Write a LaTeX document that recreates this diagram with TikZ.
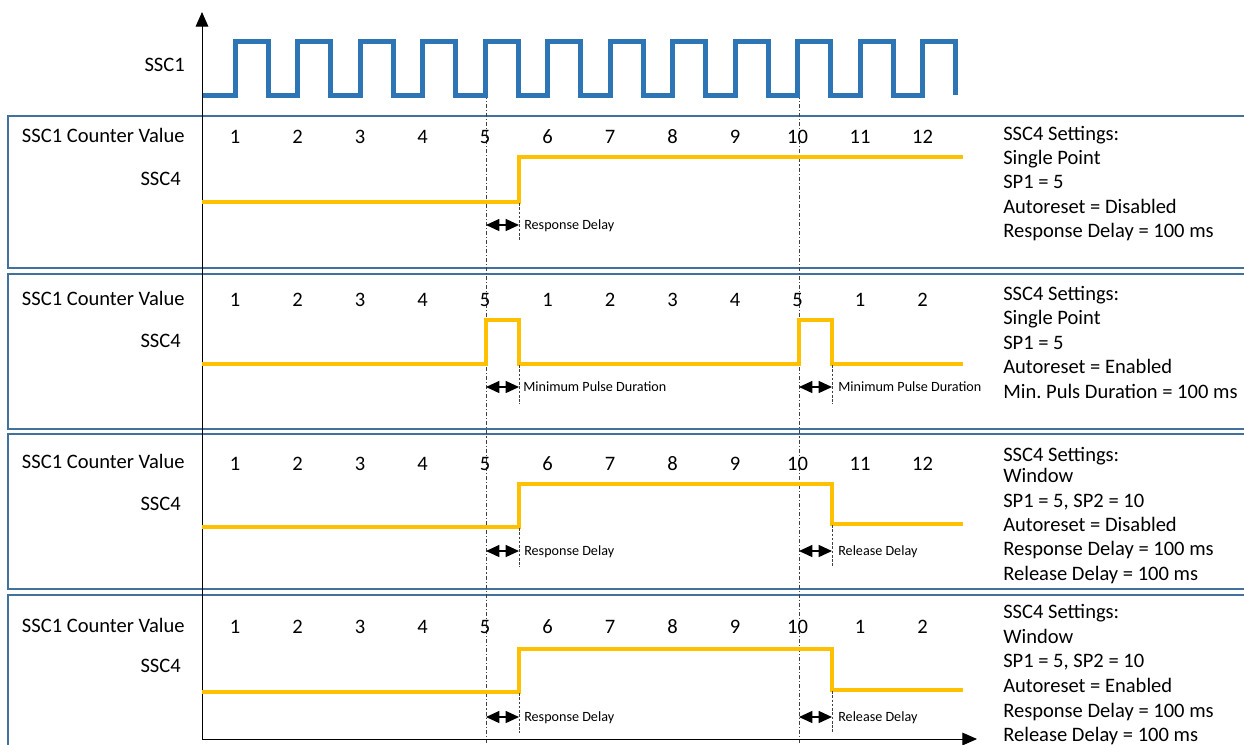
\documentclass[tikz,border=0pt]{standalone}
\usepackage{fontspec}
\setmainfont{Carlito}
\usetikzlibrary{arrows.meta}
\definecolor{clk}{HTML}{2E75B6}
\definecolor{sig}{HTML}{FFC000}
\definecolor{frame}{HTML}{41719C}
\definecolor{guide}{HTML}{404040}
\frenchspacing
\begin{document}
\begin{tikzpicture}[x=0.75pt,y=-0.75pt,
  lbl/.style={font=\fontsize{15.4}{18}\selectfont, inner sep=0pt},
  num/.style={lbl, anchor=base},
  rtxt/.style={lbl, anchor=base west},
  ltxt/.style={lbl, anchor=base east},
  small/.style={font=\fontsize{10.6}{12}\selectfont, inner sep=0pt, anchor=base west},
  frm/.style={draw=frame, line width=1.5pt},
  clkline/.style={draw=clk, line width=3.75pt, line join=miter},
  sigline/.style={draw=sig, line width=3pt, line join=miter},
  guideline/.style={draw=guide, line width=0.6pt, dash pattern=on 3pt off 1.5pt on 0.8pt off 1.5pt},
  tickline/.style={draw=guide, line width=0.6pt, dash pattern=on 2pt off 1.2pt},
  dly/.style={{Triangle[length=10pt,width=9pt]}-{Triangle[length=10pt,width=9pt]}, line width=1pt},
  axis/.style={draw=black, line width=0.75pt}
]
\useasboundingbox (0,0) rectangle (1244,744);
\clip (0,0) rectangle (1244,744);
\fill[white] (0,0) rectangle (1244,744);

% panel frames
\draw[frm] (8,116) rectangle (1270,268);
\draw[frm] (8,274) rectangle (1270,429);
\draw[frm] (8,434) rectangle (1270,589);
\draw[frm] (8,595) rectangle (1270,780);

% guide lines
\coordinate (g5top) at (486,95);
\coordinate (g5bot) at (486,744);
\coordinate (g10top) at (799,95);
\coordinate (g10bot) at (799,744);
\draw[guideline] (g5top) -- (g5bot);
\draw[guideline] (g10top) -- (g10bot);

% clock
\draw[clkline] (202,95) -- (235,95)
  \foreach \i in {0,...,10} { -- ({235+62.5*\i},41) -- ({268+62.5*\i},41) -- ({268+62.5*\i},95) -- ({297.5+62.5*\i},95) }
  -- (922.5,41) -- (955.5,41) -- (955.5,95);

% axes
\coordinate (origin) at (202,739);
\coordinate (ytip) at (202,12);
\coordinate (xtip) at (977,739);
\draw[axis, -{Triangle[length=11pt,width=9.5pt]}] (origin) -- (ytip);
\draw[axis, -{Triangle[length=11pt,width=9.5pt]}] (origin) -- (xtip);

\node[ltxt] (ssc1) at (185,71.7) {SSC1};

% ---------- panel 1 ----------
\node[ltxt] (c1) at (185,142) {SSC1 Counter Value};
\node[ltxt] (s1) at (181,185.5) {SSC4};
\foreach \n [count=\k from 0] in {1,2,3,4,5,6,7,8,9,10,11,12}
  \node[num] (pa\k) at ({235+62.5*\k},143.5) {\n};
\draw[sigline] (202,202) -- (519,202) -- (519,157) -- (963,157);
\draw[tickline] (519,203) -- (519,241);
\coordinate (a1l) at (486,225); \coordinate (a1r) at (519,225);
\draw[dly] (a1l) -- (a1r);
\node[small] (d1) at (524,229.5) {Response Delay};
\node[rtxt] (t1a) at (1003,140.5) {SSC4 Settings:};
\node[rtxt] (t1b) at (1003,164.7) {Single Point};
\node[rtxt] (t1c) at (1003,188.9) {SP1 = 5};
\node[rtxt] (t1d) at (1003,213.1) {Autoreset = Disabled};
\node[rtxt] (t1e) at (1003,237.3) {Response Delay = 100 ms};

% ---------- panel 2 ----------
\node[ltxt] (c2) at (185,305) {SSC1 Counter Value};
\node[ltxt] (s2) at (181,347) {SSC4};
\foreach \n [count=\k from 0] in {1,2,3,4,5,1,2,3,4,5,1,2}
  \node[num] (pb\k) at ({235+62.5*\k},306.5) {\n};
\draw[sigline] (202,364) -- (486,364) -- (486,320) -- (519,320) -- (519,364) -- (799,364) -- (799,320) -- (832,320) -- (832,364) -- (963,364);
\draw[tickline] (519,365) -- (519,404);
\draw[tickline] (832,365) -- (832,404);
\coordinate (a2l) at (486,387); \coordinate (a2r) at (519,387);
\coordinate (a3l) at (799,387); \coordinate (a3r) at (832,387);
\draw[dly] (a2l) -- (a2r);
\draw[dly] (a3l) -- (a3r);
\node[small] (d2) at (523,391.5) {Minimum Pulse Duration};
\node[small] (d3) at (838,391.5) {Minimum Pulse Duration};
\node[rtxt] (t2a) at (1003,300) {SSC4 Settings:};
\node[rtxt] (t2b) at (1003,324.5) {Single Point};
\node[rtxt] (t2c) at (1003,349) {SP1 = 5};
\node[rtxt] (t2d) at (1003,373.5) {Autoreset = Enabled};
\node[rtxt] (t2e) at (1003,398) {Min. Puls Duration = 100 ms};

% ---------- panel 3 ----------
\node[ltxt] (c3) at (185,468.5) {SSC1 Counter Value};
\node[ltxt] (s3) at (181,510) {SSC4};
\foreach \n [count=\k from 0] in {1,2,3,4,5,6,7,8,9,10,11,12}
  \node[num] (pc\k) at ({235+62.5*\k},470) {\n};
\draw[sigline] (202,527) -- (519,527) -- (519,484) -- (832,484) -- (832,524) -- (963,524);
\draw[tickline] (519,528) -- (519,567);
\draw[tickline] (832,525) -- (832,567);
\coordinate (a4l) at (486,551); \coordinate (a4r) at (519,551);
\coordinate (a5l) at (799,551); \coordinate (a5r) at (832,551);
\draw[dly] (a4l) -- (a4r);
\draw[dly] (a5l) -- (a5r);
\node[small] (d4) at (524,555.5) {Response Delay};
\node[small] (d5) at (838,555.5) {Release Delay};
\node[rtxt] (t3a) at (1003,461) {SSC4 Settings:};
\node[rtxt] (t3b) at (1003,482) {Window};
\node[rtxt] (t3c) at (1003,507) {SP1 = 5, SP2 = 10};
\node[rtxt] (t3d) at (1003,531.5) {Autoreset = Disabled};
\node[rtxt] (t3e) at (1003,555.5) {Response Delay = 100 ms};
\node[rtxt] (t3f) at (1003,580) {Release Delay = 100 ms};

% ---------- panel 4 ----------
\node[ltxt] (c4) at (185,632) {SSC1 Counter Value};
\node[ltxt] (s4) at (181,672) {SSC4};
\foreach \n [count=\k from 0] in {1,2,3,4,5,6,7,8,9,10,1,2}
  \node[num] (pd\k) at ({235+62.5*\k},633) {\n};
\draw[sigline] (202,692) -- (519,692) -- (519,649) -- (832,649) -- (832,690) -- (963,690);
\draw[tickline] (519,693) -- (519,733);
\draw[tickline] (832,691) -- (832,733);
\coordinate (a6l) at (486,717); \coordinate (a6r) at (519,717);
\coordinate (a7l) at (799,717); \coordinate (a7r) at (832,717);
\draw[dly] (a6l) -- (a6r);
\draw[dly] (a7l) -- (a7r);
\node[small] (d6) at (524,721.5) {Response Delay};
\node[small] (d7) at (838,721.5) {Release Delay};
\node[rtxt] (t4a) at (1003,618) {SSC4 Settings:};
\node[rtxt] (t4b) at (1003,643) {Window};
\node[rtxt] (t4c) at (1003,667) {SP1 = 5, SP2 = 10};
\node[rtxt] (t4d) at (1003,692) {Autoreset = Enabled};
\node[rtxt] (t4e) at (1003,717) {Response Delay = 100 ms};
\node[rtxt] (t4f) at (1003,741) {Release Delay = 100 ms};
\end{tikzpicture}
\end{document}
